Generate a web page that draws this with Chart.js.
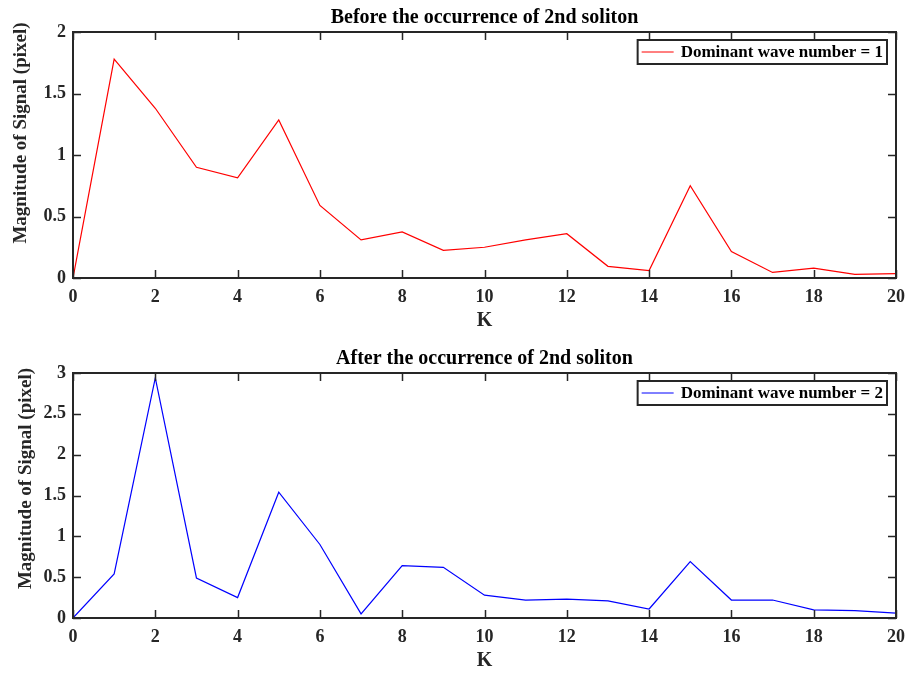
<!DOCTYPE html>
<html>
<head>
<meta charset="utf-8">
<script src="https://cdn.jsdelivr.net/npm/chart.js@4.4.1/dist/chart.umd.min.js"></script>
<style>
  html, body { margin: 0; padding: 0; background: #fff; overflow: hidden; }
  .panel { position: absolute; left: 0; width: 909px; }
  #top { top: 0; height: 336px; }
  #bottom { top: 336px; height: 345px; }
</style>
</head>
<body>
<div class="panel" id="top"><canvas id="before" width="909" height="336"></canvas></div>
<div class="panel" id="bottom"><canvas id="after" width="909" height="345"></canvas></div>
<script>
// K = 0..20
const kValues = [0, 1, 2, 3, 4, 5, 6, 7, 8, 9, 10, 11, 12, 13, 14, 15, 16, 17, 18, 19, 20];
const beforeMagnitude = [0, 1.78, 1.38, 0.90, 0.815, 1.285, 0.59, 0.31, 0.375, 0.225, 0.25,
  0.31, 0.36, 0.095, 0.06, 0.75, 0.215, 0.045, 0.08, 0.03, 0.035];
const afterMagnitude = [0, 0.54, 2.94, 0.49, 0.25, 1.54, 0.90, 0.05, 0.64, 0.62, 0.28,
  0.22, 0.23, 0.21, 0.11, 0.69, 0.22, 0.22, 0.10, 0.09, 0.06];

const kTicks = [0, 2, 4, 6, 8, 10, 12, 14, 16, 18, 20];
const beforeTicks = [0, 0.5, 1, 1.5, 2];
const afterTicks = [0, 0.5, 1, 1.5, 2, 2.5, 3];

const serif = '"Liberation Serif", "Times New Roman", serif';
const axisColor = '#262626';

// MATLAB-like box: frame, inward ticks on all sides, centred title,
// rotated y label and a framed legend in the upper right corner
const matlabBox = {
  id: 'matlabBox',
  afterDraw(chart, args, opts) {
    const { ctx, chartArea: a, scales: { x, y } } = chart;
    ctx.save();
    ctx.strokeStyle = axisColor;
    ctx.lineWidth = 1.5;
    ctx.beginPath();
    x.ticks.forEach(t => {
      const px = Math.round(x.getPixelForValue(t.value)) + 0.5;
      ctx.moveTo(px, a.bottom); ctx.lineTo(px, a.bottom - 8);
      ctx.moveTo(px, a.top); ctx.lineTo(px, a.top + 8);
    });
    y.ticks.forEach(t => {
      const py = Math.round(y.getPixelForValue(t.value)) + 0.5;
      ctx.moveTo(a.left, py); ctx.lineTo(a.left + 8, py);
      ctx.moveTo(a.right, py); ctx.lineTo(a.right - 8, py);
    });
    ctx.stroke();
    ctx.lineWidth = 2;
    ctx.strokeRect(a.left, a.top, a.right - a.left, a.bottom - a.top);

    ctx.fillStyle = '#000';
    ctx.textAlign = 'center';
    ctx.textBaseline = 'alphabetic';
    ctx.font = 'bold 20px ' + serif;
    ctx.fillText(opts.title, (a.left + a.right) / 2, a.top - 9);

    ctx.save();
    ctx.translate(opts.ylabelX, (a.top + a.bottom) / 2 - opts.ylabelShift);
    ctx.rotate(-Math.PI / 2);
    ctx.textBaseline = 'middle';
    ctx.font = 'bold 19px ' + serif;
    ctx.fillStyle = axisColor;
    ctx.fillText(opts.ylabel, 0, 0);
    ctx.restore();

    // legend
    const ds = chart.data.datasets[0];
    ctx.font = 'bold 17px ' + serif;
    const tw = ctx.measureText(ds.label).width;
    const bw = tw + 47, bh = 24;
    const bx = a.right - 9 - bw, by = a.top + 8;
    ctx.fillStyle = '#fff';
    ctx.fillRect(bx, by, bw, bh);
    ctx.lineWidth = 2;
    ctx.strokeStyle = axisColor;
    ctx.strokeRect(bx, by, bw, bh);
    ctx.strokeStyle = ds.borderColor;
    ctx.lineWidth = 1;
    ctx.beginPath();
    ctx.moveTo(bx + 4, by + bh / 2);
    ctx.lineTo(bx + 36, by + bh / 2);
    ctx.stroke();
    ctx.fillStyle = '#000';
    ctx.textAlign = 'left';
    ctx.textBaseline = 'middle';
    ctx.fillText(ds.label, bx + 43, by + bh / 2 + 1);
    ctx.restore();
  }
};

function makeChart(id, values, color, label, yTicks, title, topPad, axisH, kPad, ylabelX, ylabelShift) {
  const ctx = document.getElementById(id).getContext('2d');
  return new Chart(ctx, {
    type: 'line',
    data: {
      datasets: [{
        label: label,
        data: kValues.map((k, i) => ({ x: k, y: values[i] })),
        borderColor: color,
        borderWidth: 1.2,
        pointRadius: 0,
        tension: 0,
        fill: false
      }]
    },
    options: {
      responsive: false,
      animation: false,
      layout: { padding: { top: topPad, right: 13, left: 0, bottom: 0 } },
      scales: {
        x: {
          type: 'linear',
          min: kTicks[0],
          max: kTicks[kTicks.length - 1],
          afterBuildTicks: s => { s.ticks = kTicks.map(v => ({ value: v })); },
          afterFit: s => { s.height = axisH; s.paddingLeft = 0; s.paddingRight = 0; },
          grid: { display: false, drawTicks: false },
          border: { display: false },
          ticks: { color: axisColor, padding: 9, maxRotation: 0, callback: v => String(v),
            font: { family: serif, size: 18, weight: 'bold' } },
          title: { display: true, text: 'K', color: axisColor, padding: { top: 0, bottom: kPad },
            font: { family: serif, size: 20, weight: 'bold' } }
        },
        y: {
          min: yTicks[0],
          max: yTicks[yTicks.length - 1],
          afterBuildTicks: s => { s.ticks = yTicks.map(v => ({ value: v })); },
          afterFit: s => { s.width = 73; },
          grid: { display: false, drawTicks: false },
          border: { display: false },
          ticks: { color: axisColor, padding: 7, callback: v => String(v),
            font: { family: serif, size: 18, weight: 'bold' } }
        }
      },
      plugins: {
        legend: { display: false },
        tooltip: { enabled: false },
        matlabBox: { title: title, ylabel: 'Magnitude of Signal (pixel)', ylabelX: ylabelX, ylabelShift: ylabelShift }
      }
    },
    plugins: [matlabBox]
  });
}

makeChart('before', beforeMagnitude, '#ff0000', 'Dominant wave number = 1', beforeTicks,
  'Before the occurrence of 2nd soliton', 32, 58, 3, 21, 22);
makeChart('after', afterMagnitude, '#0000ff', 'Dominant wave number = 2', afterTicks,
  'After the occurrence of 2nd soliton', 37, 63, 8, 26, 17);
</script>
</body>
</html>
